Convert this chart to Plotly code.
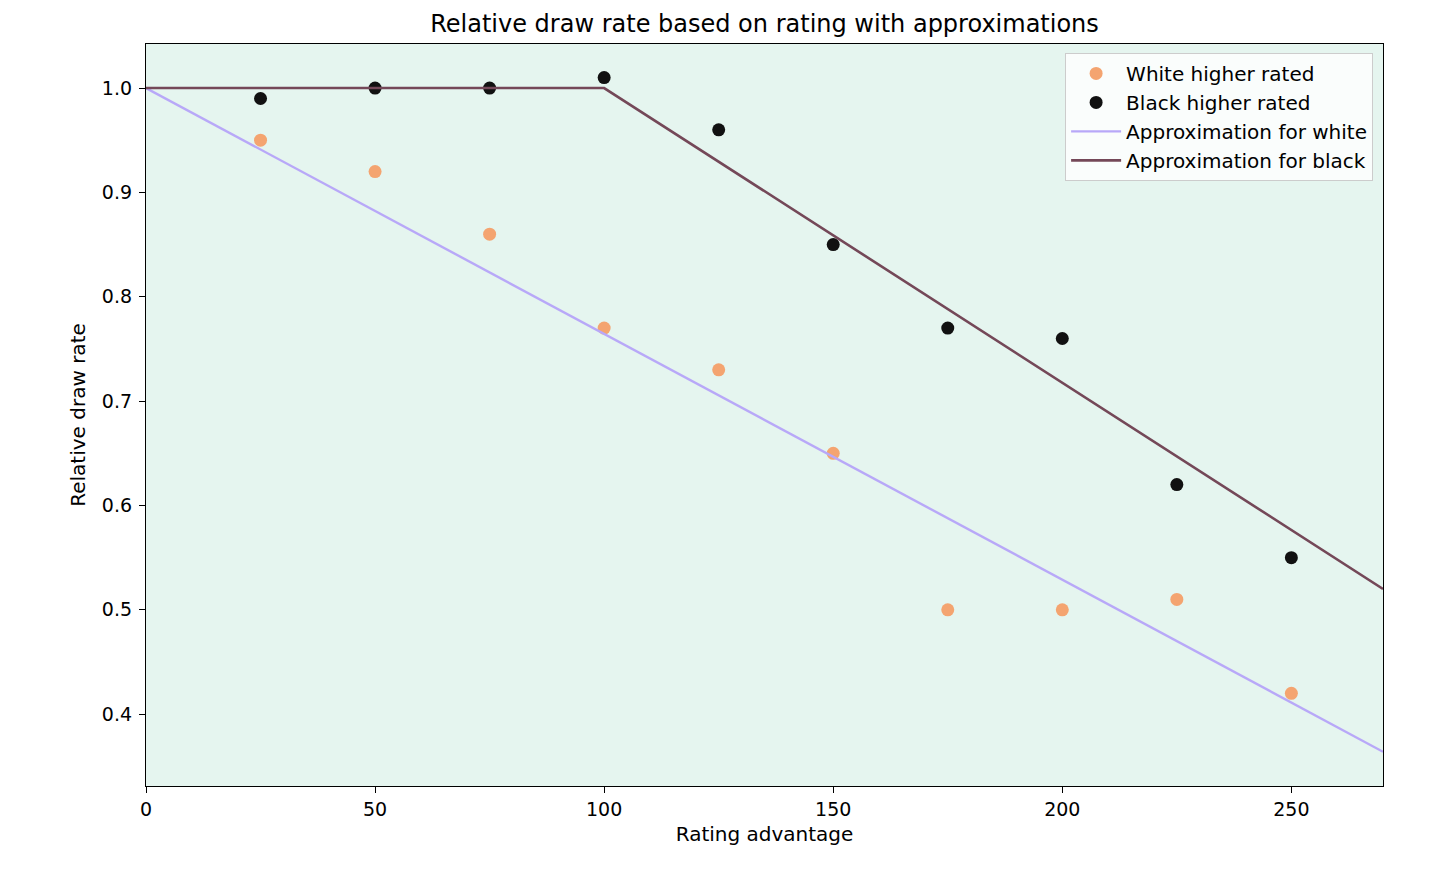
import plotly.graph_objects as go

rating = [25, 50, 75, 100, 125, 150, 175, 200, 225, 250]
white_rate = [0.95, 0.92, 0.86, 0.77, 0.73, 0.65, 0.50, 0.50, 0.51, 0.42]
black_rate = [0.99, 1.00, 1.00, 1.01, 0.96, 0.85, 0.77, 0.76, 0.62, 0.55]

approx_white_x = [0, 270]
approx_white_y = [1.0, 0.364]
approx_black_x = [0, 100, 270]
approx_black_y = [1.0, 1.0, 0.52]

x_ticks = [0, 50, 100, 150, 200, 250]
y_ticks = [0.4, 0.5, 0.6, 0.7, 0.8, 0.9, 1.0]

font = "DejaVu Sans, Liberation Sans, sans-serif"

fig = go.Figure()
fig.add_trace(go.Scatter(x=rating, y=white_rate, mode="markers", name="White higher rated",
                         marker=dict(color="#f4a470", size=13)))
fig.add_trace(go.Scatter(x=rating, y=black_rate, mode="markers", name="Black higher rated",
                         marker=dict(color="#111111", size=13)))
fig.add_trace(go.Scatter(x=approx_white_x, y=approx_white_y, mode="lines", name="Approximation for white",
                         line=dict(color="#b8a8f8", width=2.4)))
fig.add_trace(go.Scatter(x=approx_black_x, y=approx_black_y, mode="lines", name="Approximation for black",
                         line=dict(color="#744858", width=2.6)))

axis_common = dict(showline=True, linecolor="black", linewidth=1.3, mirror=True, ticks="outside",
                   ticklen=6, tickcolor="black", showgrid=False, zeroline=False,
                   tickfont=dict(size=19, color="black", family=font))

# page body has an 8px margin, so figure is 1440x858 placed at (8, 8)
fig.update_layout(
    width=1440, height=858,
    margin=dict(l=138, r=65, t=36, b=80),
    paper_bgcolor="white", plot_bgcolor="#e5f5ef",
    font=dict(family=font, color="black"),
    title=dict(text="Relative draw rate based on rating with approximations", x=0.5,
               xanchor="center", xref="paper", y=1 - 16 / 858, yanchor="middle",
               font=dict(size=24, family=font, color="black")),
    xaxis=dict(range=[0, 270], tickvals=x_ticks, title=dict(text="Rating advantage", font=dict(size=20), standoff=8),
               **axis_common),
    yaxis=dict(range=[0.3312, 1.0422], tickvals=y_ticks, tickformat=".1f", ticklabelstandoff=3,
               title=dict(text="Relative draw rate", font=dict(size=20), standoff=10), **axis_common),
    legend=dict(x=0.992, y=0.988, xanchor="right", yanchor="top", bgcolor="rgba(255,255,255,0.8)",
                bordercolor="#cccccc", borderwidth=1, font=dict(size=20, family=font), itemwidth=50),
    showlegend=True,
)

fig.write_html("out.html")
